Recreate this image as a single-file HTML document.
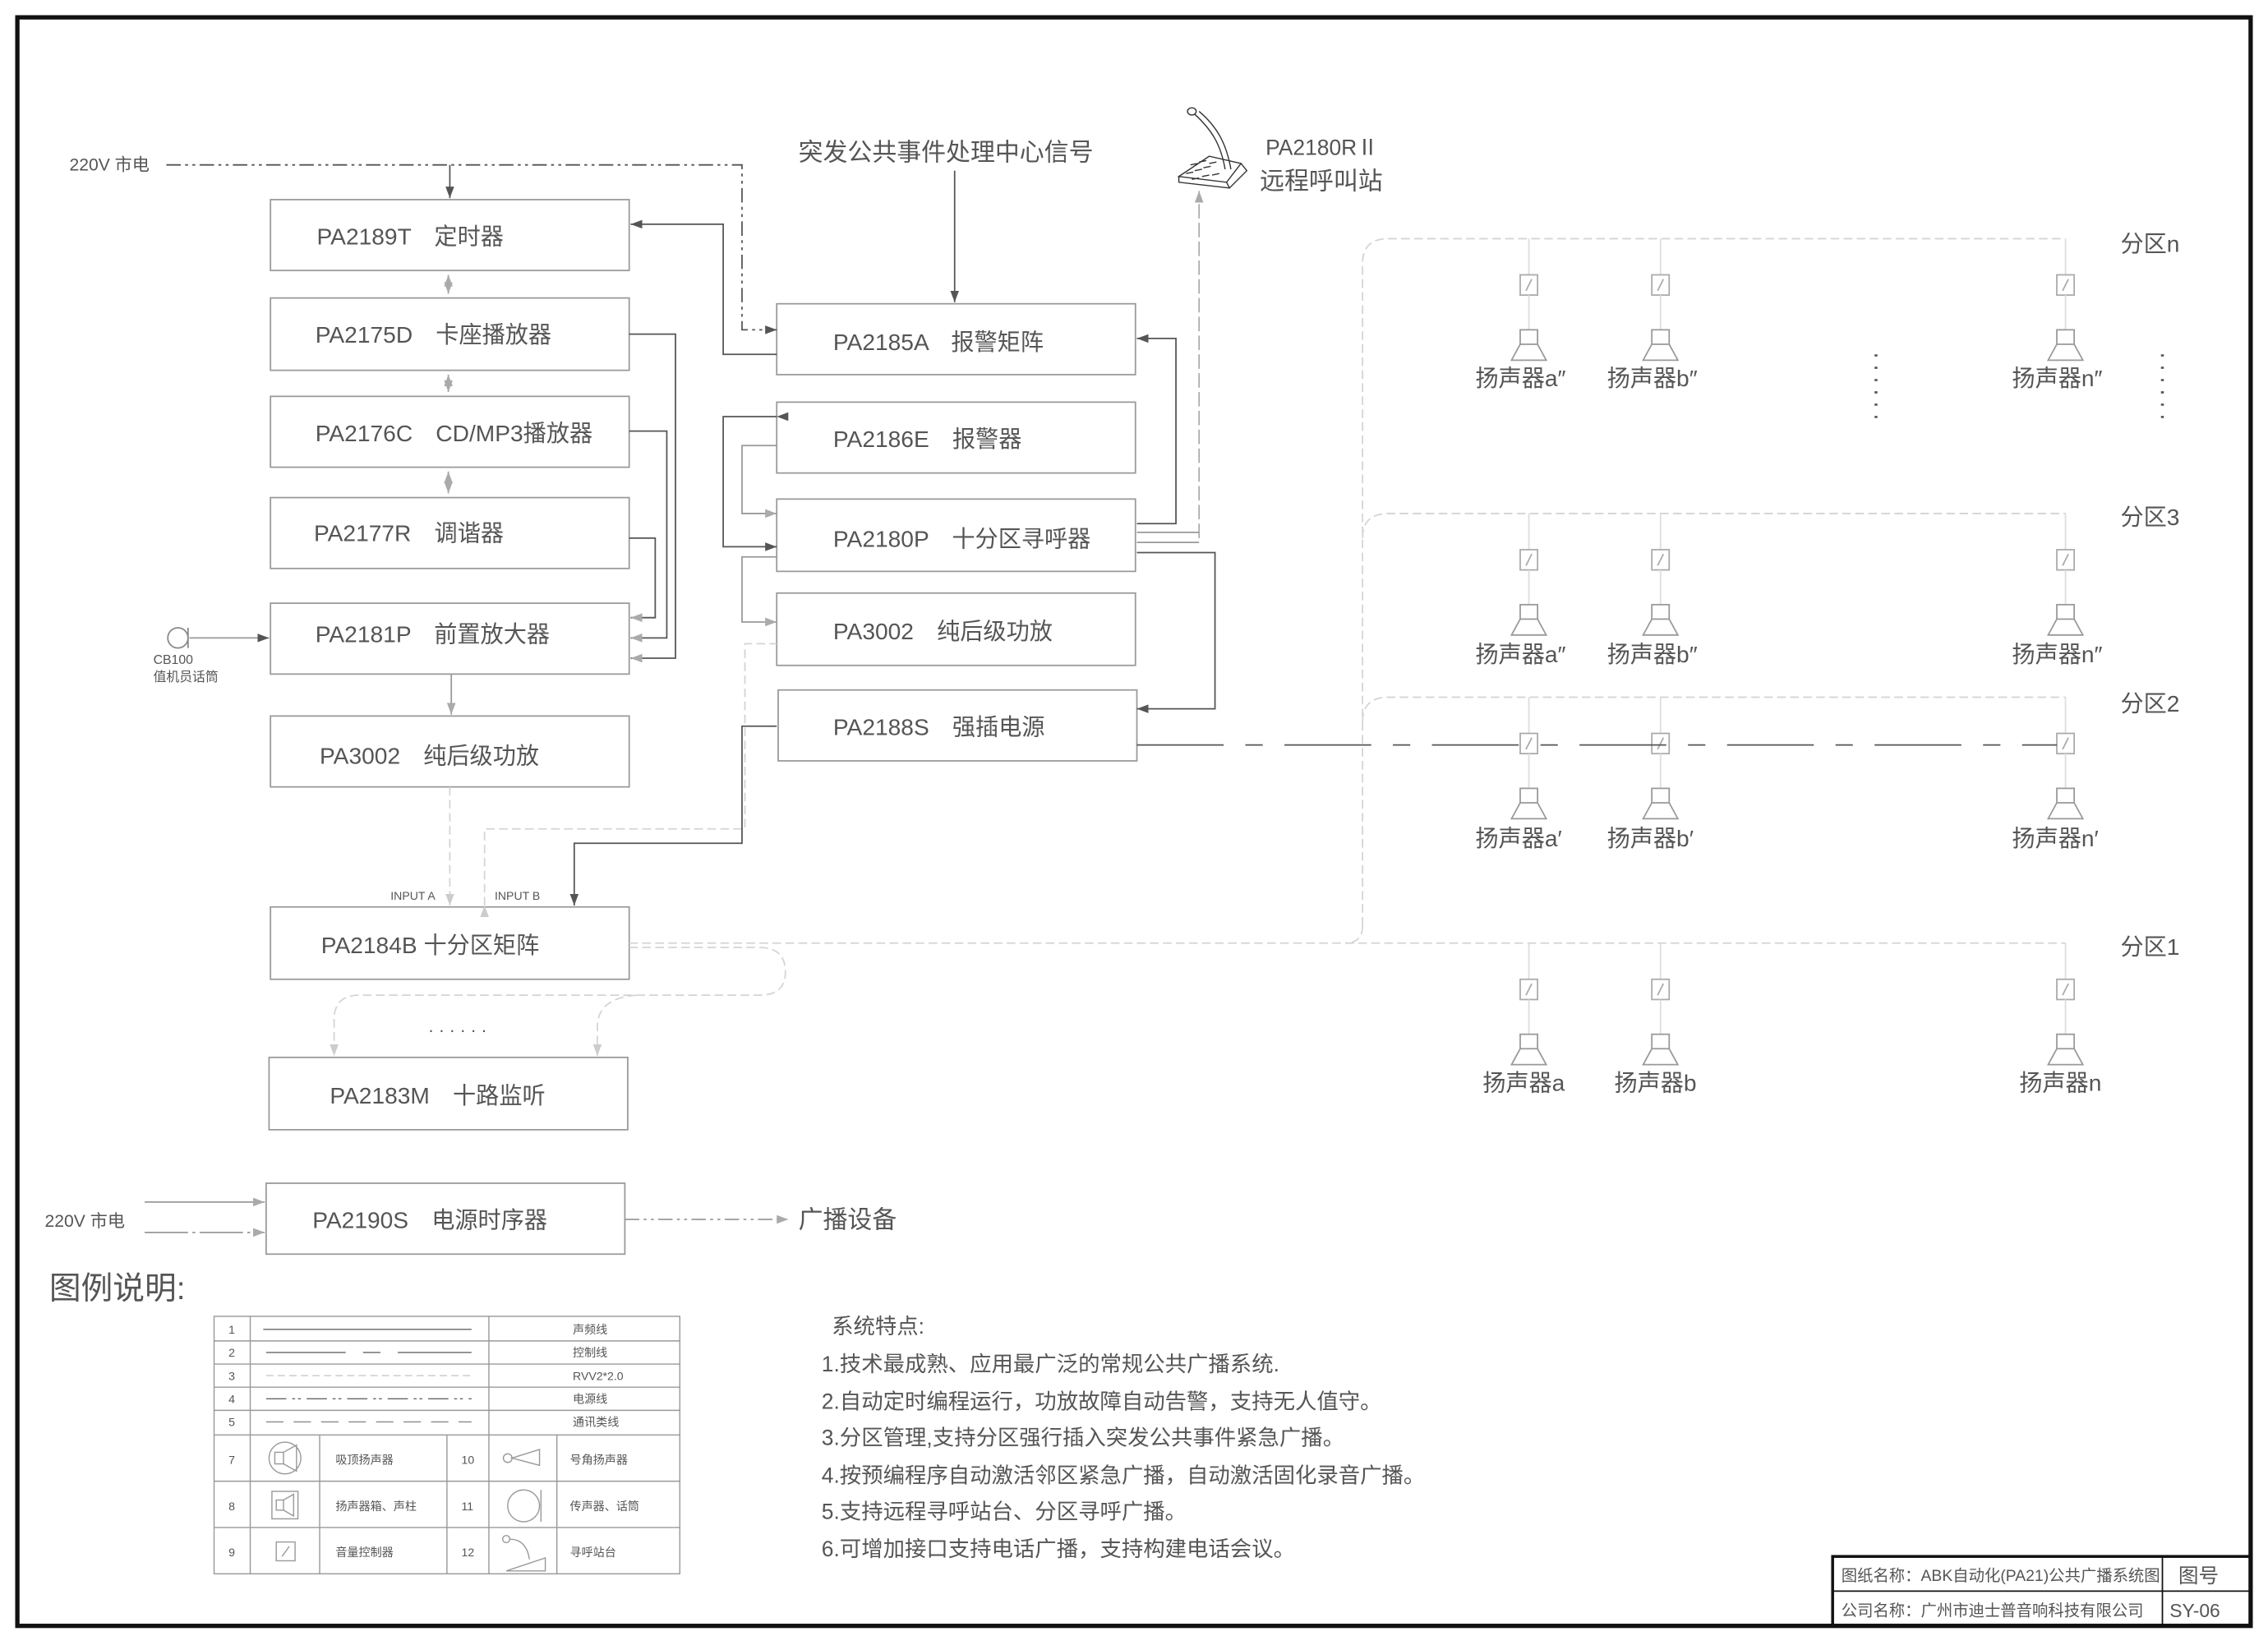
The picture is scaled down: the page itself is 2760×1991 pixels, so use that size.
<!DOCTYPE html>
<html><head><meta charset="utf-8"><style>
html,body{margin:0;padding:0;background:#fff}
svg{display:block}
text{font-family:"Liberation Sans","Noto Sans CJK SC",sans-serif;fill:#555}
.b{fill:none;stroke:#999;stroke-width:1}
.k{fill:none;stroke:#555;stroke-width:1}
.g{fill:none;stroke:#999;stroke-width:1}
.l{fill:none;stroke:#d4d4d4;stroke-width:1;stroke-dasharray:6 3}
.t{font-size:16px}
</style></head><body>
<svg width="2760" height="1991" viewBox="0 0 1568 1131" preserveAspectRatio="none" xmlns="http://www.w3.org/2000/svg">
<defs>
<marker id="a" markerWidth="8" markerHeight="6" refX="8" refY="3" orient="auto" markerUnits="userSpaceOnUse"><path d="M0,0L8,3L0,6z" fill="#555"/></marker>
<marker id="ag" markerWidth="8" markerHeight="6" refX="8" refY="3" orient="auto" markerUnits="userSpaceOnUse"><path d="M0,0L8,3L0,6z" fill="#aaa"/></marker>
<marker id="al" markerWidth="8" markerHeight="6" refX="8" refY="3" orient="auto" markerUnits="userSpaceOnUse"><path d="M0,0L8,3L0,6z" fill="#ccc"/></marker>
<g id="sp">
<line x1="0" y1="0" x2="0" y2="25" stroke="#ddd"/>
<rect x="-6" y="25" width="12" height="14" fill="#fff" stroke="#aaa"/>
<line x1="-2" y1="36" x2="2" y2="28" stroke="#aaa"/>
<line x1="0" y1="39" x2="0" y2="63" stroke="#ddd"/>
<rect x="-6" y="63" width="12" height="10" fill="#fff" stroke="#999"/>
<path d="M-6,73L-12,84L12,84L6,73" fill="none" stroke="#999"/>
</g>
</defs>
<rect x="0" y="0" width="1568" height="1131" fill="#fff"/>
<rect x="12" y="12" width="1544" height="1112" fill="none" stroke="#111" stroke-width="3"/>

<rect class="b" x="187" y="138" width="248" height="49"/>
<rect class="b" x="187" y="206" width="248" height="50"/>
<rect class="b" x="187" y="274" width="248" height="49"/>
<rect class="b" x="187" y="344" width="248" height="49"/>
<rect class="b" x="187" y="417" width="248" height="49"/>
<rect class="b" x="187" y="495" width="248" height="49"/>
<rect class="b" x="187" y="627" width="248" height="50"/>
<rect class="b" x="186" y="731" width="248" height="50"/>
<rect class="b" x="184" y="818" width="248" height="49"/>
<text class="t" x="219" y="169">PA2189T　定时器</text>
<text class="t" x="218" y="237">PA2175D　卡座播放器</text>
<text class="t" x="218" y="305">PA2176C　CD/MP3播放器</text>
<text class="t" x="217" y="374">PA2177R　调谐器</text>
<text class="t" x="218" y="444">PA2181P　前置放大器</text>
<text class="t" x="221" y="528">PA3002　纯后级功放</text>
<text class="t" x="222" y="659">PA2184B 十分区矩阵</text>
<text class="t" x="228" y="763">PA2183M　十路监听</text>
<text class="t" x="216" y="849">PA2190S　电源时序器</text>

<rect class="b" x="537" y="210" width="248" height="49"/>
<rect class="b" x="537" y="278" width="248" height="49"/>
<rect class="b" x="537" y="345" width="248" height="50"/>
<rect class="b" x="537" y="410" width="248" height="50"/>
<rect class="b" x="538" y="477" width="248" height="49"/>
<text class="t" x="576" y="242">PA2185A　报警矩阵</text>
<text class="t" x="576" y="309">PA2186E　报警器</text>
<text class="t" x="576" y="378">PA2180P　十分区寻呼器</text>
<text class="t" x="576" y="442">PA3002　纯后级功放</text>
<text class="t" x="576" y="508">PA2188S　强插电源</text>

<text x="48" y="118" font-size="12">220V 市电</text>
<path class="k" d="M115,114H513V228H537" stroke-dasharray="10 3 2 3 2 3" marker-end="url(#a)"/>
<line class="k" x1="311" y1="114" x2="311" y2="137" marker-end="url(#a)"/>
<text x="552" y="111" font-size="17" fill="#333">突发公共事件处理中心信号</text>
<line class="k" x1="660" y1="118" x2="660" y2="209" marker-end="url(#a)"/>
<path class="k" d="M537,245H500V155H436" marker-end="url(#a)"/>

<g stroke="#aaa">
<line x1="310" y1="190" x2="310" y2="203" marker-end="url(#ag)"/>
<line x1="310" y1="203" x2="310" y2="190" marker-end="url(#ag)"/>
<line x1="310" y1="259" x2="310" y2="271" marker-end="url(#ag)"/>
<line x1="310" y1="271" x2="310" y2="259" marker-end="url(#ag)"/>
<line x1="310" y1="326" x2="310" y2="341" marker-end="url(#ag)"/>
<line x1="310" y1="341" x2="310" y2="326" marker-end="url(#ag)"/>
</g>
<path class="k" d="M435,231H467V455H436" marker-end="url(#ag)"/>
<path class="k" d="M435,298H461V441H436" marker-end="url(#ag)"/>
<path class="k" d="M435,372H453V427H436" marker-end="url(#ag)"/>
<circle cx="123" cy="441" r="7" fill="none" stroke="#888"/>
<line x1="130" y1="434" x2="130" y2="448" stroke="#888"/>
<line class="g" x1="131" y1="441" x2="186" y2="441" marker-end="url(#a)"/>
<text x="106" y="459" font-size="9">CB100</text>
<text x="106" y="471" font-size="9">值机员话筒</text>
<line class="g" x1="312" y1="466" x2="312" y2="494" marker-end="url(#ag)"/>

<line class="l" x1="311" y1="544" x2="311" y2="626" marker-end="url(#al)"/>
<path class="l" d="M335,626V573H515V445H537" marker-start="url(#al)"/>
<text x="270" y="622" font-size="8">INPUT A</text>
<text x="342" y="622" font-size="8">INPUT B</text>
<path class="k" d="M537,502H513V583H397V626" marker-end="url(#a)"/>

<path class="k" d="M537,288H500V378H537" marker-end="url(#a)" marker-start="url(#a)"/>
<path class="g" d="M537,308H513V355H537" marker-end="url(#ag)"/>
<path class="g" d="M537,385H513V430H537" marker-end="url(#ag)"/>

<path class="k" d="M786,362H813V234H786" marker-end="url(#a)"/>
<path class="k" d="M786,382H840V490H786" marker-end="url(#a)"/>
<line x1="829" y1="372" x2="829" y2="132" stroke="#aaa" stroke-dasharray="10 3" marker-end="url(#ag)"/>
<path class="g" d="M786,368H829"/>
<path class="g" d="M786,375H829"/>

<g stroke="#333" fill="none" stroke-width="0.8">
<path d="M815,122L836,108L858,113L848,126Z"/>
<path d="M848,126L850,130L862,118L858,113"/>
<path d="M850,130L815,126L815,122"/>
<path d="M847,117C844,100 838,90 826,79"/>
<path d="M851,117C848,100 842,88 829,77"/>
<ellipse cx="824" cy="77" rx="3" ry="2.5"/>
<path d="M820,120l5,-1 M826,118l5,-1 M832,116l5,-1 M823,114l5,-1 M829,112l5,-1 M836,113l5,-1 M824,124l5,-1 M831,122l5,-1 M838,121l5,-1"/>
</g>
<text x="875" y="107" font-size="15">PA2180RⅡ</text>
<text x="871" y="131" font-size="17">远程呼叫站</text>

<path class="l" d="M435,652H1428"/>
<path class="l" d="M942,640V182Q942,165 960,165H1428"/>
<path class="l" d="M942,372Q942,355 960,355H1428"/>
<path class="l" d="M942,499Q942,482 960,482H1428"/>
<path class="l" d="M942,640Q942,652 930,652"/>
<g>
<use href="#sp" x="1057" y="165"/><use href="#sp" x="1148" y="165"/><use href="#sp" x="1428" y="165"/>
<use href="#sp" x="1057" y="355"/><use href="#sp" x="1148" y="355"/><use href="#sp" x="1428" y="355"/>
<use href="#sp" x="1057" y="482"/><use href="#sp" x="1148" y="482"/><use href="#sp" x="1428" y="482"/>
<use href="#sp" x="1057" y="652"/><use href="#sp" x="1148" y="652"/><use href="#sp" x="1428" y="652"/>
</g>
<g font-size="16">
<text x="1020" y="267">扬声器a″</text><text x="1111" y="267">扬声器b″</text><text x="1391" y="267">扬声器n″</text>
<text x="1020" y="458">扬声器a″</text><text x="1111" y="458">扬声器b″</text><text x="1391" y="458">扬声器n″</text>
<text x="1020" y="585">扬声器a′</text><text x="1111" y="585">扬声器b′</text><text x="1391" y="585">扬声器n′</text>
<text x="1025" y="754">扬声器a</text><text x="1116" y="754">扬声器b</text><text x="1396" y="754">扬声器n</text>
<text x="1466" y="174">分区n</text><text x="1466" y="363">分区3</text><text x="1466" y="492">分区2</text><text x="1466" y="660">分区1</text>
</g>
<line x1="786" y1="515" x2="1422" y2="515" stroke="#555" stroke-dasharray="60 15 12 15"/>
<line x1="1297" y1="245" x2="1297" y2="292" stroke="#555" stroke-width="2" stroke-dasharray="1.5 7"/>
<line x1="1495" y1="245" x2="1495" y2="292" stroke="#555" stroke-width="2" stroke-dasharray="1.5 7"/>

<path class="l" d="M435,655H525Q543,655 543,672Q543,688 525,688H248Q231,688 231,705V730" marker-end="url(#al)"/>
<path class="l" d="M440,688Q413,690 413,710V730" marker-end="url(#al)"/>
<text x="296" y="716" font-size="12" fill="#555">· · · · · ·</text>

<text x="31" y="848" font-size="12">220V 市电</text>
<line class="g" x1="100" y1="831" x2="183" y2="831" marker-end="url(#ag)"/>
<line class="g" x1="100" y1="852" x2="183" y2="852" stroke-dasharray="30 3 2 3" marker-end="url(#ag)"/>
<line class="g" x1="432" y1="843" x2="545" y2="843" stroke-dasharray="10 3 2 3 2 3" marker-end="url(#ag)"/>
<text x="552" y="849" font-size="17" fill="#444">广播设备</text>

<text x="34" y="898" font-size="22" fill="#bbb">图例说明:</text>

<g stroke="#999" fill="none" stroke-width="0.8">
<rect x="148" y="910" width="322" height="178"/>
<path d="M148,927H470M148,943H470M148,959H470M148,975H470M148,992H470M148,1024H470M148,1056H470"/>
<path d="M173,910V1088M338,910V1088M221,992V1088M309,992V1088M385,992V1088"/>
<line x1="182" y1="919" x2="326" y2="919" stroke="#666"/>
<line x1="184" y1="935" x2="326" y2="935" stroke="#666" stroke-dasharray="55 12 12 12"/>
<line x1="184" y1="951" x2="326" y2="951" stroke="#ccc" stroke-dasharray="5 3"/>
<line x1="184" y1="967" x2="326" y2="967" stroke="#666" stroke-dasharray="14 4 2 2 2 4"/>
<line x1="184" y1="983" x2="326" y2="983" stroke="#888" stroke-dasharray="12 7"/>
<circle cx="197" cy="1008" r="11"/><rect x="190" y="1004" width="6" height="8"/><path d="M196,1004L205,999V1017L196,1012"/>
<rect x="188" y="1031" width="18" height="19"/><rect x="191" y="1037" width="5" height="7"/><path d="M196,1037L203,1033V1048L196,1044"/>
<rect x="191" y="1066" width="13" height="13"/><line x1="195" y1="1076" x2="200" y2="1069"/>
<circle cx="351" cy="1008" r="3"/><path d="M354,1008L373,1002V1013Z"/>
<circle cx="362" cy="1041" r="11"/><line x1="374" y1="1030" x2="374" y2="1052"/>
<circle cx="350" cy="1064" r="2.5"/><path d="M352,1064Q364,1064 366,1078"/><path d="M350,1086L377,1077V1086Z"/>
</g>
<g font-size="8" fill="#777">
<text x="158" y="922">1</text><text x="158" y="938">2</text><text x="158" y="954">3</text><text x="158" y="970">4</text><text x="158" y="986">5</text>
<text x="158" y="1012">7</text><text x="158" y="1044">8</text><text x="158" y="1076">9</text>
<text x="319" y="1012">10</text><text x="319" y="1044">11</text><text x="319" y="1076">12</text>
<text x="396" y="922">声频线</text><text x="396" y="938">控制线</text><text x="396" y="954">RVV2*2.0</text><text x="396" y="970">电源线</text><text x="396" y="986">通讯类线</text>
<text x="232" y="1012">吸顶扬声器</text><text x="232" y="1044">扬声器箱、声柱</text><text x="232" y="1076">音量控制器</text>
<text x="394" y="1012">号角扬声器</text><text x="394" y="1044">传声器、话筒</text><text x="394" y="1076">寻呼站台</text>
</g>

<g font-size="15" fill="#444">
<text x="575" y="922">系统特点:</text>
<text x="568" y="948">1.技术最成熟、应用最广泛的常规公共广播系统.</text>
<text x="568" y="974">2.自动定时编程运行，功放故障自动告警，支持无人值守。</text>
<text x="568" y="999">3.分区管理,支持分区强行插入突发公共事件紧急广播。</text>
<text x="568" y="1025">4.按预编程序自动激活邻区紧急广播，自动激活固化录音广播。</text>
<text x="568" y="1050">5.支持远程寻呼站台、分区寻呼广播。</text>
<text x="568" y="1076">6.可增加接口支持电话广播，支持构建电话会议。</text>
</g>

<g stroke="#111" fill="none">
<rect x="1267" y="1076" width="289" height="48" stroke-width="2"/>
<line x1="1267" y1="1100" x2="1556" y2="1100"/>
<line x1="1495" y1="1076" x2="1495" y2="1124"/>
</g>
<g fill="#222">
<text x="1273" y="1093" font-size="11">图纸名称：ABK自动化(PA21)公共广播系统图</text>
<text x="1506" y="1094" font-size="14">图号</text>
<text x="1273" y="1117" font-size="11">公司名称：广州市迪士普音响科技有限公司</text>
<text x="1500" y="1118" font-size="13" font-family="Liberation Serif">SY-06</text>
</g>
</svg>
</body></html>
